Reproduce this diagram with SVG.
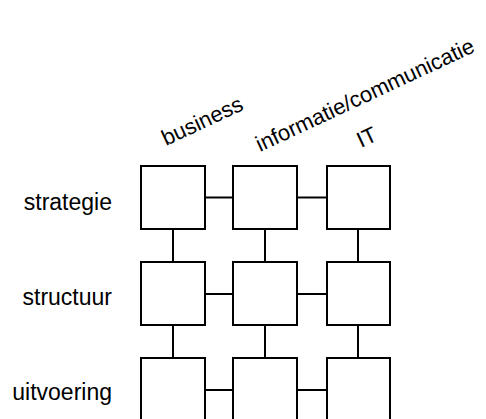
<svg xmlns="http://www.w3.org/2000/svg" width="486" height="419" viewBox="0 0 486 419">
  <style>
    .box { fill: #ffffff; stroke: #000000; stroke-width: 2; }
    .link { stroke: #000000; stroke-width: 2; fill: none; }
    .lbl { font-family: "Liberation Sans", Arial, Helvetica, sans-serif; fill: #000000; }
    .head { font-size: 22px; }
    .row { font-size: 23px; text-anchor: end; }
  </style>
  <rect width="486" height="419" fill="#ffffff"/>

  <!-- column headings -->
  <g id="headings">
    <text class="lbl head" transform="translate(166,146) rotate(-25)">business</text>
    <text class="lbl head" transform="translate(260,152) rotate(-25)">informatie/communicatie</text>
    <text class="lbl head" transform="translate(361,148) rotate(-25)">IT</text>
  </g>

  <!-- row headings -->
  <g id="rows">
    <text class="lbl row" x="112" y="210">strategie</text>
    <text class="lbl row" x="112" y="305">structuur</text>
    <text class="lbl row" x="112" y="400">uitvoering</text>
  </g>

  <!-- connectors between neighbouring cells -->
  <g id="connectors">
    <line class="link" x1="205" y1="197.5" x2="233" y2="197.5"/>
    <line class="link" x1="297" y1="197.5" x2="327" y2="197.5"/>
    <line class="link" x1="205" y1="294" x2="233" y2="294"/>
    <line class="link" x1="297" y1="294" x2="327" y2="294"/>
    <line class="link" x1="205" y1="390" x2="233" y2="390"/>
    <line class="link" x1="297" y1="390" x2="327" y2="390"/>
    <line class="link" x1="173" y1="229" x2="173" y2="262"/>
    <line class="link" x1="173" y1="325" x2="173" y2="358"/>
    <line class="link" x1="265" y1="229" x2="265" y2="262"/>
    <line class="link" x1="265" y1="325" x2="265" y2="358"/>
    <line class="link" x1="358" y1="229" x2="358" y2="262"/>
    <line class="link" x1="358" y1="325" x2="358" y2="358"/>
  </g>

  <!-- cells -->
  <g id="strategie-business"><rect class="box" x="141" y="166" width="64" height="63"/></g>
  <g id="strategie-informatie"><rect class="box" x="233" y="166" width="64" height="63"/></g>
  <g id="strategie-it"><rect class="box" x="327" y="166" width="63" height="63"/></g>
  <g id="structuur-business"><rect class="box" x="141" y="262" width="64" height="63"/></g>
  <g id="structuur-informatie"><rect class="box" x="233" y="262" width="64" height="63"/></g>
  <g id="structuur-it"><rect class="box" x="327" y="262" width="63" height="63"/></g>
  <g id="uitvoering-business"><rect class="box" x="141" y="358" width="64" height="63"/></g>
  <g id="uitvoering-informatie"><rect class="box" x="233" y="358" width="64" height="63"/></g>
  <g id="uitvoering-it"><rect class="box" x="327" y="358" width="63" height="63"/></g>
</svg>
